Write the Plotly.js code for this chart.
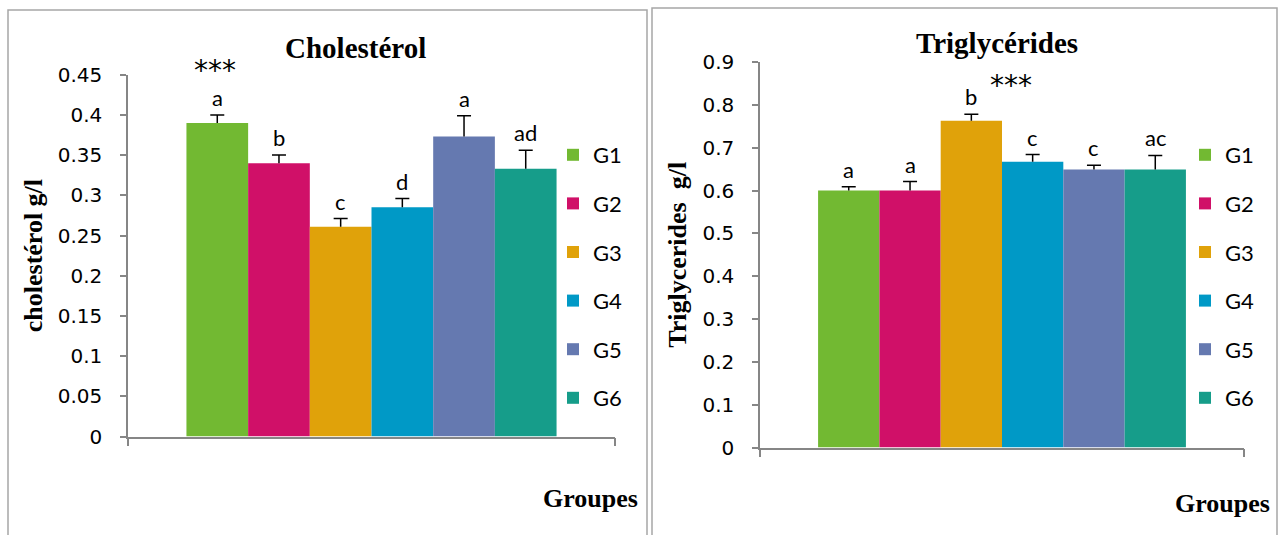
<!DOCTYPE html>
<html>
<head>
<meta charset="utf-8">
<script src="https://cdn.plot.ly/plotly-3.0.1.min.js"></script>
<style>
  html, body { margin: 0; padding: 0; background: #ffffff; }
  #chart { width: 1280px; height: 535px; }
</style>
</head>
<body>
<div id="chart"></div>
<script>
// ---------- data ----------
const groups = ['G1', 'G2', 'G3', 'G4', 'G5', 'G6'];

const cholValues  = [0.390, 0.340, 0.261, 0.285, 0.373, 0.333];
const cholErrors  = [0.010, 0.010, 0.010, 0.011, 0.026, 0.023];
const cholLetters = ['a', 'b', 'c', 'd', 'a', 'ad'];
const cholTickVals = [0, 0.05, 0.1, 0.15, 0.2, 0.25, 0.3, 0.35, 0.4, 0.45];
const cholTickText = ['0', '0.05', '0.1', '0.15', '0.2', '0.25', '0.3', '0.35', '0.4', '0.45'];

const trigValues  = [0.600, 0.600, 0.763, 0.667, 0.649, 0.649];
const trigErrors  = [0.009, 0.021, 0.015, 0.017, 0.010, 0.033];
const trigLetters = ['a', 'a', 'b', 'c', 'c', 'ac'];
const trigTickVals = [0, 0.1, 0.2, 0.3, 0.4, 0.5, 0.6, 0.7, 0.8, 0.9];
const trigTickText = ['0', '0.1', '0.2', '0.3', '0.4', '0.5', '0.6', '0.7', '0.8', '0.9'];

const cholStarIndex = 0;   // *** over G1
const trigStarIndex = 2;   // *** next to G3
const category = ['Groupes'];

// ---------- style ----------
const colors = ['#72B932', '#D01068', '#E0A20A', '#0099C6', '#6579B0', '#169D8A'];
const axisGray = '#868686';
const tickFont = { family: 'DejaVu Sans, sans-serif', size: 20, color: '#000' };
const legendFont = { family: 'Lato, sans-serif', size: 22, color: '#000' };
const letterFont = { family: 'Lato, sans-serif', size: 22, color: '#000' };
const starFont = { family: 'DejaVu Sans, sans-serif', size: 28, color: '#000' };
const serifBold = 'Liberation Serif, Times New Roman, serif';
const BARGAP = 0.24;

function barCenter(i) {
  const w = (1 - BARGAP) / groups.length;
  return -(1 - BARGAP) / 2 + w * (i + 0.5);
}

const traces = [];
function addPanel(values, errors, xa, ya, hatAxis, legendId, prefix) {
  groups.forEach((g, i) => {
    traces.push({
      type: 'bar', name: g, x: category, y: [values[i]],
      xaxis: xa, yaxis: ya, legend: legendId, legendgroup: prefix + g,
      marker: { color: colors[i], line: { width: 0 } },
      error_y: { type: 'data', symmetric: false, array: [errors[i]], arrayminus: [0],
                 color: '#000', thickness: 1.5, width: 0 },
      hoverinfo: 'name+y'
    });
  });
  // caps on top of the (plus-only) error bars
  traces.push({
    type: 'scatter', mode: 'markers', xaxis: hatAxis, yaxis: ya, showlegend: false,
    x: groups.map((g, i) => barCenter(i)),
    y: values.map((v, i) => v + errors[i]),
    marker: { symbol: 'line-ew', size: 10, color: '#000', line: { color: '#000', width: 1.5 } },
    hoverinfo: 'skip'
  });
}
addPanel(cholValues, cholErrors, 'x', 'y', 'x3', 'legend', 'L');
addPanel(trigValues, trigErrors, 'x2', 'y2', 'x4', 'legend2', 'R');

const annotations = [];
groups.forEach((g, i) => {
  annotations.push({
    xref: 'x', yref: 'y', x: barCenter(i), y: cholValues[i] + cholErrors[i],
    text: cholLetters[i], showarrow: false, yanchor: 'bottom', yshift: 2, font: letterFont
  });
  annotations.push({
    xref: 'x2', yref: 'y2', x: barCenter(i), y: trigValues[i] + trigErrors[i],
    text: trigLetters[i], showarrow: false, yanchor: 'bottom', yshift: 2, font: letterFont
  });
});
annotations.push({
  xref: 'x', yref: 'y', x: barCenter(cholStarIndex), y: cholValues[cholStarIndex] + cholErrors[cholStarIndex],
  text: '***', showarrow: false, yanchor: 'middle', yshift: 45, xshift: -2, height: 22, font: starFont
});
annotations.push({
  xref: 'x2', yref: 'y2', x: barCenter(trigStarIndex), y: trigValues[trigStarIndex] + trigErrors[trigStarIndex],
  text: '***', showarrow: false, yanchor: 'middle', yshift: 29, xshift: 40, height: 22, font: starFont
});
// panel titles
annotations.push({ xref: 'paper', yref: 'paper', x: 355.5 / 1280, y: 1 - 48 / 535,
  text: '<b>Cholestérol</b>', showarrow: false, xanchor: 'center', yanchor: 'middle',
  font: { family: serifBold, size: 29, color: '#000' } });
annotations.push({ xref: 'paper', yref: 'paper', x: 996.5 / 1280, y: 1 - 43 / 535,
  text: '<b>Triglycérides</b>', showarrow: false, xanchor: 'center', yanchor: 'middle',
  font: { family: serifBold, size: 29, color: '#000' } });
// x axis names
annotations.push({ xref: 'paper', yref: 'paper', x: 590 / 1280, y: 1 - 498 / 535,
  text: '<b>Groupes</b>', showarrow: false, xanchor: 'center', yanchor: 'middle',
  font: { family: serifBold, size: 26, color: '#000' } });
annotations.push({ xref: 'paper', yref: 'paper', x: 1222.5 / 1280, y: 1 - 503 / 535,
  text: '<b>Groupes</b>', showarrow: false, xanchor: 'center', yanchor: 'middle',
  font: { family: serifBold, size: 26, color: '#000' } });

const shapes = [
  { type: 'rect', xref: 'paper', yref: 'paper', x0: 8 / 1280, x1: 647 / 1280, y0: -0.05, y1: 1 - 10 / 535,
    line: { color: '#A6A6A6', width: 1.5 }, fillcolor: 'rgba(0,0,0,0)', layer: 'below' },
  { type: 'rect', xref: 'paper', yref: 'paper', x0: 652 / 1280, x1: 1277 / 1280, y0: -0.05, y1: 1 - 8 / 535,
    line: { color: '#A6A6A6', width: 1.5 }, fillcolor: 'rgba(0,0,0,0)', layer: 'below' }
];

function xAxis(domain, anchor) {
  return {
    domain: domain, anchor: anchor, type: 'category', range: [-0.5, 0.5], showticklabels: false,
    showline: true, linecolor: axisGray, linewidth: 1.5, ticks: 'outside', tickson: 'boundaries',
    ticklen: 8, tickcolor: axisGray, tickwidth: 1.5, showgrid: false, zeroline: false, fixedrange: true
  };
}
function hatAxis(base, anchor) {
  return { overlaying: base, anchor: anchor, type: 'linear', range: [-0.5, 0.5], visible: false,
           showgrid: false, zeroline: false, fixedrange: true };
}
function yAxis(domain, anchor, range, vals, text, title) {
  return {
    domain: domain, anchor: anchor, range: range, tickmode: 'array', tickvals: vals, ticktext: text,
    showline: true, linecolor: axisGray, linewidth: 1.5, ticks: 'outside', ticklen: 6,
    tickcolor: axisGray, tickwidth: 1.5, showgrid: false, zeroline: false, tickfont: tickFont,
    ticklabelstandoff: 14, fixedrange: true,
    title: { text: title, font: { family: serifBold, size: 26, color: '#000' }, standoff: 8 }
  };
}

const layout = {
  width: 1280, height: 535,
  margin: { l: 0, r: 0, t: 0, b: 0 },
  paper_bgcolor: '#ffffff', plot_bgcolor: 'rgba(0,0,0,0)',
  barmode: 'group', bargap: BARGAP, bargroupgap: 0,
  xaxis: xAxis([128 / 1280, 615 / 1280], 'y'),
  yaxis: yAxis([1 - 436.5 / 535, 1 - 74.7 / 535], 'x', [0, 0.45], cholTickVals, cholTickText, '<b>cholestérol g/l</b>'),
  xaxis2: xAxis([760 / 1280, 1244 / 1280], 'y2'),
  yaxis2: yAxis([1 - 447.5 / 535, 1 - 62 / 535], 'x2', [0, 0.9], trigTickVals, trigTickText, '<b>Triglycerides&nbsp; g/l</b>'),
  xaxis3: hatAxis('x', 'y'),
  xaxis4: hatAxis('x2', 'y2'),
  legend: { x: 553 / 1280, y: 1 - 134 / 535, xanchor: 'left', yanchor: 'top', bgcolor: 'rgba(0,0,0,0)',
            font: legendFont, traceorder: 'grouped', tracegroupgap: 17, borderwidth: 0 },
  legend2: { x: 1185 / 1280, y: 1 - 134 / 535, xanchor: 'left', yanchor: 'top', bgcolor: 'rgba(0,0,0,0)',
             font: legendFont, traceorder: 'grouped', tracegroupgap: 17, borderwidth: 0 },
  showlegend: true,
  annotations: annotations,
  shapes: shapes
};

Plotly.newPlot('chart', traces, layout, { displayModeBar: false, responsive: false });
</script>
</body>
</html>
